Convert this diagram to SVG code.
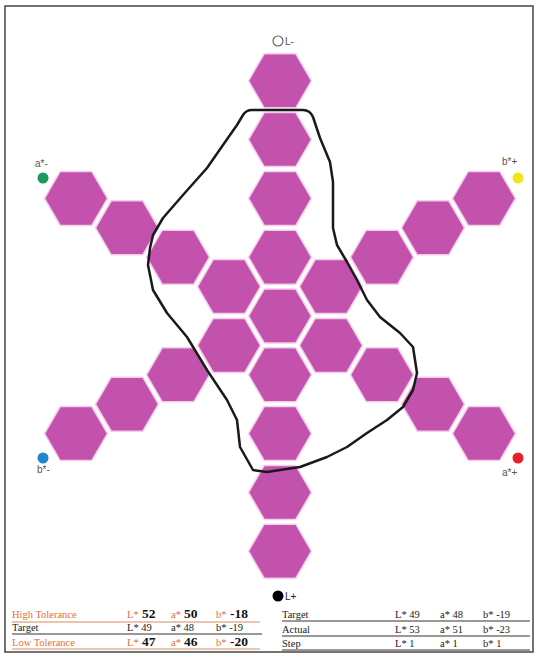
<svg xmlns="http://www.w3.org/2000/svg" width="539" height="658" viewBox="0 0 539 658">
<style>
.hx{fill:#c352ad;stroke:#f3cdec;stroke-width:1.5}
.lbl{font-family:"Liberation Sans",Arial,sans-serif;font-size:10px;fill:#555}
.t{font-family:"Liberation Serif","Times New Roman",serif;font-size:10.5px;fill:#222}
.o{fill:#e2703c}
.b{font-weight:bold;font-size:13.5px;fill:#111}
.ul{stroke:#333;stroke-width:1}
.ulo{stroke:#d98a5e;stroke-width:1}
</style>
<defs>
<polygon id="hex" points="-31.5,0 -15.8,-27 15.8,-27 31.5,0 15.8,27 -15.8,27"/>
</defs>
<rect x="5" y="6" width="528" height="646" fill="#fff" stroke="#444" stroke-width="1.5"/>
<g id="hexes">
<g id="c-4"><use href="#hex" class="hx" x="280" y="80.8"/></g>
<g id="c-3"><use href="#hex" class="hx" x="280" y="139.6"/></g>
<g id="c-2"><use href="#hex" class="hx" x="280" y="198.4"/></g>
<g id="c-1"><use href="#hex" class="hx" x="280" y="257.2"/></g>
<g id="c0"><use href="#hex" class="hx" x="280" y="316"/></g>
<g id="c1"><use href="#hex" class="hx" x="280" y="374.8"/></g>
<g id="c2"><use href="#hex" class="hx" x="280" y="433.6"/></g>
<g id="c3"><use href="#hex" class="hx" x="280" y="492.4"/></g>
<g id="c4"><use href="#hex" class="hx" x="280" y="551.2"/></g>
<g id="ul1"><use href="#hex" class="hx" x="229" y="286.6"/></g>
<g id="ul2"><use href="#hex" class="hx" x="178" y="257.2"/></g>
<g id="ul3"><use href="#hex" class="hx" x="127" y="227.8"/></g>
<g id="ul4"><use href="#hex" class="hx" x="76" y="198.4"/></g>
<g id="ur1"><use href="#hex" class="hx" x="331" y="286.6"/></g>
<g id="ur2"><use href="#hex" class="hx" x="382" y="257.2"/></g>
<g id="ur3"><use href="#hex" class="hx" x="433" y="227.8"/></g>
<g id="ur4"><use href="#hex" class="hx" x="484" y="198.4"/></g>
<g id="dl1"><use href="#hex" class="hx" x="229" y="345.4"/></g>
<g id="dl2"><use href="#hex" class="hx" x="178" y="374.8"/></g>
<g id="dl3"><use href="#hex" class="hx" x="127" y="404.2"/></g>
<g id="dl4"><use href="#hex" class="hx" x="76" y="433.6"/></g>
<g id="dr1"><use href="#hex" class="hx" x="331" y="345.4"/></g>
<g id="dr2"><use href="#hex" class="hx" x="382" y="374.8"/></g>
<g id="dr3"><use href="#hex" class="hx" x="433" y="404.2"/></g>
<g id="dr4"><use href="#hex" class="hx" x="484" y="433.6"/></g>
</g>
<g id="outline">
<path d="M243,115 Q246,110 252,110 L303,110 Q310,110 313,117 L320,138 L330,162 L333,182 L333,228 L337,245 L347,262 L357,280 L367,300 L380,317 L400,333 L413,347 L417,373 L413,390 L403,407 L387,420 L367,433 L347,447 L327,457 L300,467 L267,472 L253,470 L240,447 L237,420 L227,400 L207,370 L187,337 L167,313 L153,290 L148,265 L150,248 L153,235 L163,218 L183,195 L207,168 L223,145 L237,125 Z" fill="none" stroke="#1a1a1a" stroke-width="2.5" stroke-linejoin="round"/>
</g>
<g id="label-Lminus">
<circle cx="278" cy="41" r="5" fill="#fff" stroke="#666" stroke-width="1.2"/>
<text class="lbl" x="285" y="45">L-</text>
</g>
<g id="label-aminus">
<text class="lbl" x="35" y="167" font-size="9">a*-</text>
<circle cx="43" cy="178" r="5.5" fill="#1a9a5c"/>
</g>
<g id="label-bplus">
<text class="lbl" x="502" y="165" font-size="9">b*+</text>
<circle cx="518" cy="178" r="5.5" fill="#f6e41a"/>
</g>
<g id="label-bminus">
<circle cx="43" cy="458" r="5.5" fill="#1f86cf"/>
<text class="lbl" x="37" y="473" font-size="9">b*-</text>
</g>
<g id="label-aplus">
<circle cx="518" cy="458" r="5.5" fill="#e8202a"/>
<text class="lbl" x="502" y="476" font-size="9">a*+</text>
</g>
<g id="label-Lplus">
<circle cx="278" cy="596" r="5.5" fill="#000"/>
<text class="lbl" x="285" y="600" style="fill:#222">L+</text>
</g>
<g id="table-left">
<text class="t o" x="12" y="618">High Tolerance</text>
<text class="t o" x="127" y="618">L*</text><text class="t b" x="142" y="618">52</text>
<text class="t o" x="171" y="618">a*</text><text class="t b" x="184" y="618">50</text>
<text class="t o" x="216" y="618">b*</text><text class="t b" x="230" y="618">-18</text>
<line class="ulo" x1="12" y1="622" x2="260" y2="622"/>
<text class="t" x="12" y="631">Target</text>
<text class="t" x="127" y="631">L* 49</text>
<text class="t" x="171" y="631">a* 48</text>
<text class="t" x="216" y="631">b* -19</text>
<line class="ul" x1="12" y1="634" x2="262" y2="634"/>
<text class="t o" x="12" y="646">Low Tolerance</text>
<text class="t o" x="127" y="646">L*</text><text class="t b" x="142" y="646">47</text>
<text class="t o" x="171" y="646">a*</text><text class="t b" x="184" y="646">46</text>
<text class="t o" x="216" y="646">b*</text><text class="t b" x="230" y="646">-20</text>
<line class="ulo" x1="12" y1="649" x2="260" y2="649"/>
</g>
<g id="table-right">
<text class="t" x="282" y="618">Target</text>
<text class="t" x="395" y="618">L* 49</text>
<text class="t" x="440" y="618">a* 48</text>
<text class="t" x="483" y="618">b* -19</text>
<line class="ul" x1="282" y1="621" x2="530" y2="621"/>
<text class="t" x="282" y="633">Actual</text>
<text class="t" x="395" y="633">L* 53</text>
<text class="t" x="440" y="633">a* 51</text>
<text class="t" x="483" y="633">b* -23</text>
<line class="ul" x1="282" y1="636" x2="530" y2="636"/>
<text class="t" x="282" y="647">Step</text>
<text class="t" x="395" y="647">L* 1</text>
<text class="t" x="440" y="647">a* 1</text>
<text class="t" x="483" y="647">b* 1</text>
<line class="ul" x1="282" y1="650" x2="530" y2="650"/>
</g>
</svg>
